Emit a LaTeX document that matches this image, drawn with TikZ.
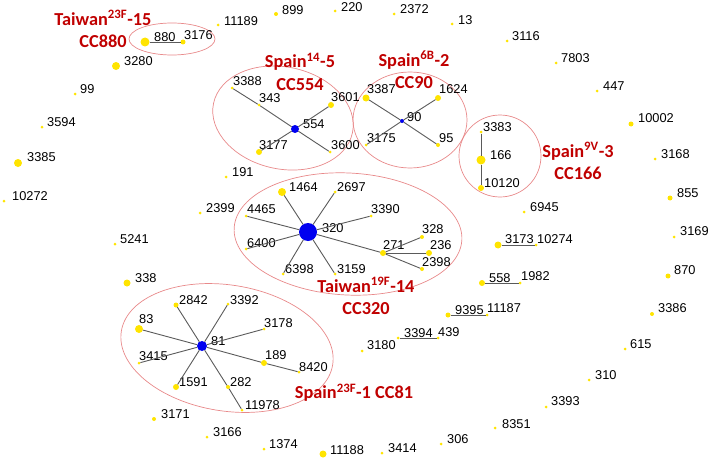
\documentclass[tikz,border=0pt]{standalone}
\usepackage{fontspec}
\setmainfont{Liberation Sans}
\newfontfamily\ccfont{Carlito}
\usepackage{xcolor}
\usepackage{tikz}
\definecolor{stYellow}{HTML}{FFE400}
\definecolor{hubBlue}{HTML}{0000F0}
\definecolor{ccRed}{HTML}{C00000}
\definecolor{ringPink}{HTML}{E8898A}
\definecolor{edgeGray}{HTML}{5A5A5A}
\tikzset{
    num/.style={
        inner sep=0pt, text=black,
        font=\fontsize{12.8}{14}\selectfont
    },
    st/.style n args={4}{
        circle, fill=stYellow, draw=none, inner sep=0pt, outer sep=0pt, minimum size=#1,
        label={[num, label distance=0pt, xshift=#2-#1/2, yshift=#3]0:#4}
    },
    hub/.style n args={4}{
        st={#1}{#2}{#3}{#4}, fill=hubBlue
    },
    link/.style={
        draw=edgeGray, line width=0.9pt
    },
    ring/.style={
        draw=ringPink, line width=0.7pt
    },
    cc_lbl/.style={
        font=\ccfont\bfseries\fontsize{18.3}{22.5}\selectfont, text=ccRed,
        align=center, inner sep=0pt
    }
}

\begin{document}
\begin{tikzpicture}[x=1pt, y=-1pt]
    \useasboundingbox (0,0) rectangle (709,460);

    % Cluster outlines
    \draw[ring] (172,39) ellipse [x radius=43, y radius=16];
    \draw[ring] (283,118) ellipse [x radius=71, y radius=51, rotate=-12];
    \draw[ring] (410,120) ellipse [x radius=57, y radius=48];
    \draw[ring] (500,156) circle [radius=41];
    \draw[ring] (348,234) ellipse [x radius=114, y radius=61, rotate=-3];
    \draw[ring] (227,348) ellipse [x radius=107, y radius=63, rotate=-9];

    % Taiwan 23F-15 (CC880)
    \node[st={9}{9}{5}{880}] (p880) at (145,42) {};
    \node[st={5}{1}{7}{3176}] (p3176) at (183,42) {};

    % Spain 14-5 (CC554)
    \node[hub={8}{8}{5}{554}] (p554) at (295,129) {};
    \node[st={3}{1}{7}{3388}] (p3388) at (232,88) {};
    \node[st={3}{0}{7}{343}] (p343) at (259,105) {};
    \node[st={6}{0}{8}{3601}] (p3601) at (331,105) {};
    \node[st={6}{0}{7}{3177}] (p3177) at (259,152) {};
    \node[st={3}{1}{7}{3600}] (p3600) at (330,152) {};

    % Spain 6B-2 (CC90)
    \node[hub={4}{5}{4}{90}] (p90) at (402,121) {};
    \node[st={7}{1}{9}{3387}] (p3387) at (366,98) {};
    \node[st={6}{1}{9}{1624}] (p1624) at (438,98) {};
    \node[st={3}{1}{7}{3175}] (p3175) at (366,145) {};
    \node[st={4}{1}{7}{95}] (p95) at (438,145) {};

    % Spain 9V-3 (CC166)
    \node[st={3}{2}{5}{3383}] (p3383) at (481,132) {};
    \node[st={9}{9}{5}{166}] (p166) at (481,160) {};
    \node[st={6}{3}{5}{10120}] (p10120) at (481,188) {};

    % Taiwan 19F-14 (CC320)
    \node[hub={18}{14}{4}{320}] (p320) at (308,232) {};
    \node[st={8}{7}{5}{1464}] (p1464) at (282,192) {};
    \node[st={3}{2}{5}{2697}] (p2697) at (335,192) {};
    \node[st={3}{0}{7}{3390}] (p3390) at (371,216) {};
    \node[st={3}{1}{7}{4465}] (p4465) at (246,216) {};
    \node[st={3}{1}{6}{6400}] (p6400) at (246,249) {};
    \node[st={3}{2}{5}{6398}] (p6398) at (283,274) {};
    \node[st={3}{2}{5}{3159}] (p3159) at (335,274) {};
    \node[st={6}{0}{8}{271}] (p271) at (383,253) {};
    \node[st={4}{0}{8}{328}] (p328) at (422,237) {};
    \node[st={6}{1}{8}{236}] (p236) at (429,253) {};
    \node[st={4}{0}{7}{2398}] (p2398) at (422,269) {};

    % Spain 23F-1 (CC81)
    \node[hub={10}{9}{5}{81}] (p81) at (202,346) {};
    \node[st={5}{3}{5}{2842}] (p2842) at (176,305) {};
    \node[st={3}{2}{4}{3392}] (p3392) at (228,304) {};
    \node[st={3}{0}{6}{3178}] (p3178) at (264,329) {};
    \node[st={8}{0}{10}{83}] (p83) at (139,329) {};
    \node[st={3}{0}{7}{3415}] (p3415) at (139,363) {};
    \node[st={6}{1}{8}{189}] (p189) at (264,363) {};
    \node[st={3}{0}{5}{8420}] (p8420) at (299,372) {};
    \node[st={6}{3}{5}{1591}] (p1591) at (176,387) {};
    \node[st={4}{2}{5}{282}] (p282) at (228,387) {};
    \node[st={3}{3}{5}{11978}] (p11978) at (242,410) {};

    % Linked pairs
    \node[st={7}{7}{6}{3173}] (p3173) at (498,245) {};
    \node[st={3}{1}{6}{10274}] (p10274) at (536,245) {};
    \node[st={6}{7}{5}{558}] (p558) at (482,283) {};
    \node[st={3}{1}{7}{1982}] (p1982) at (520,283) {};
    \node[st={5}{7}{5}{9395}] (p9395) at (448,315) {};
    \node[st={3}{0}{7}{11187}] (p11187) at (487,315) {};
    \node[st={3}{6}{5}{3394}] (p3394) at (398,338) {};
    \node[st={3}{0}{6}{439}] (p439) at (438,338) {};

    % Singletons (outer ring)
    \node[st={3}{6}{4}{11189}] (p11189) at (218,25) {};
    \node[st={4}{6}{4}{899}] (p899) at (276,14) {};
    \node[st={3}{6}{4}{220}] (p220) at (335,11) {};
    \node[st={3}{6}{5}{2372}] (p2372) at (394,14) {};
    \node[st={3}{6}{4}{13}] (p13) at (452,24) {};
    \node[st={3}{5}{5}{3116}] (p3116) at (507,41) {};
    \node[st={3}{5}{5}{7803}] (p7803) at (556,63) {};
    \node[st={3}{6}{5}{447}] (p447) at (597,91) {};
    \node[st={5}{7}{6}{10002}] (p10002) at (631,124) {};
    \node[st={3}{6}{5}{3168}] (p3168) at (655,159) {};
    \node[st={5}{7}{5}{855}] (p855) at (670,198) {};
    \node[st={3}{6}{6}{3169}] (p3169) at (674,237) {};
    \node[st={5}{6}{6}{870}] (p870) at (668,276) {};
    \node[st={4}{6}{6}{3386}] (p3386) at (652,314) {};
    \node[st={3}{5}{5}{615}] (p615) at (625,349) {};
    \node[st={3}{6}{5}{310}] (p310) at (589,380) {};
    \node[st={3}{5}{6}{3393}] (p3393) at (546,407) {};
    \node[st={3}{7}{4}{8351}] (p8351) at (495,428) {};
    \node[st={3}{6}{5}{306}] (p306) at (441,444) {};
    \node[st={3}{6}{5}{3414}] (p3414) at (382,453) {};
    \node[st={7}{7}{4}{11188}] (p11188) at (323,454) {};
    \node[st={3}{5}{5}{1374}] (p1374) at (264,449) {};
    \node[st={3}{6}{5}{3166}] (p3166) at (207,437) {};
    \node[st={4}{7}{5}{3171}] (p3171) at (154,419) {};
    \node[st={8}{8}{5}{3280}] (p3280) at (116,66) {};
    \node[st={3}{5}{5}{99}] (p99) at (75,94) {};
    \node[st={3}{5}{5}{3594}] (p3594) at (42,127) {};
    \node[st={8}{9}{6}{3385}] (p3385) at (18,163) {};
    \node[st={3}{8}{5}{10272}] (p10272) at (4,201) {};

    % Singletons (inner)
    \node[st={3}{6}{5}{191}] (p191) at (226,177) {};
    \node[st={3}{6}{5}{2399}] (p2399) at (200,213) {};
    \node[st={3}{5}{5}{5241}] (p5241) at (115,244) {};
    \node[st={7}{8}{5}{338}] (p338) at (127,283) {};
    \node[st={3}{6}{5}{6945}] (p6945) at (524,212) {};
    \node[st={3}{5}{6}{3180}] (p3180) at (362,351) {};

    % Clonal complex captions
    \node[cc_lbl] (ccTw880) at (103,29) {Taiwan\textsuperscript{23F}-15\\CC880};
    \node[cc_lbl] (ccSp554) at (300,72) {Spain\textsuperscript{14}-5\\CC554};
    \node[cc_lbl] (ccSp90) at (414,70) {Spain\textsuperscript{6B}-2\\CC90};
    \node[cc_lbl] (ccSp166) at (578,161) {Spain\textsuperscript{9V}-3\\CC166};
    \node[cc_lbl] (ccTw320) at (366,296) {Taiwan\textsuperscript{19F}-14\\CC320};
    \node[cc_lbl] (ccSp81) at (354,393) {Spain\textsuperscript{23F}-1 CC81};

    % Links
    \draw[link] (p880) -- (p3176);
    \draw[link] (p554) -- (p343);
    \draw[link] (p343) -- (p3388);
    \draw[link] (p554) -- (p3601);
    \draw[link] (p554) -- (p3177);
    \draw[link] (p554) -- (p3600);
    \draw[link] (p90) -- (p3387);
    \draw[link] (p90) -- (p1624);
    \draw[link] (p90) -- (p3175);
    \draw[link] (p90) -- (p95);
    \draw[link] (p3383) -- (p166);
    \draw[link] (p166) -- (p10120);
    \draw[link] (p320) -- (p1464);
    \draw[link] (p320) -- (p2697);
    \draw[link] (p320) -- (p3390);
    \draw[link] (p320) -- (p4465);
    \draw[link] (p320) -- (p6400);
    \draw[link] (p320) -- (p6398);
    \draw[link] (p320) -- (p3159);
    \draw[link] (p320) -- (p271);
    \draw[link] (p271) -- (p328);
    \draw[link] (p271) -- (p236);
    \draw[link] (p271) -- (p2398);
    \draw[link] (p81) -- (p2842);
    \draw[link] (p81) -- (p3392);
    \draw[link] (p81) -- (p3178);
    \draw[link] (p81) -- (p83);
    \draw[link] (p81) -- (p3415);
    \draw[link] (p81) -- (p189);
    \draw[link] (p189) -- (p8420);
    \draw[link] (p81) -- (p1591);
    \draw[link] (p81) -- (p282);
    \draw[link] (p282) -- (p11978);
    \draw[link] (p3173) -- (p10274);
    \draw[link] (p558) -- (p1982);
    \draw[link] (p9395) -- (p11187);
    \draw[link] (p3394) -- (p439);
\end{tikzpicture}
\end{document}
